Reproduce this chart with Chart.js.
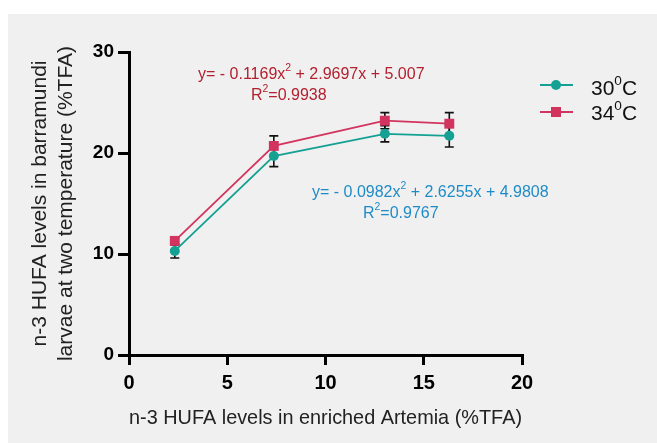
<!DOCTYPE html>
<html>
<head>
<meta charset="utf-8">
<script src="https://cdn.jsdelivr.net/npm/chart.js@4"></script>
<style>
html, body { margin: 0; padding: 0; background: #fff; }
#wrap { position: relative; width: 657px; height: 443px; }
#panel { position: absolute; left: 8px; top: 14px; right: 0; bottom: 0; background: #f0f0f0; }
canvas { position: absolute; left: 0; top: 0; }
</style>
</head>
<body>
<div id="wrap"><div id="panel"></div><canvas id="chart" width="657" height="443"></canvas></div>
<script>
// values
const artemia = [2.33, 7.37, 13.02, 16.3];
const larvae30 = [10.3, 19.7, 21.9, 21.7];
const err30 = [0.7, 1.05, 0.8, 1.1];
const larvae34 = [11.3, 20.7, 23.2, 22.9];
const err34 = [0.4, 1.0, 0.8, 1.1];
const seriesTemps = ['30', '34'];
const xRange = [0, 20, 5];
const yRange = [0, 30, 10];

const FONT = '"Liberation Sans", Arial, sans-serif';
const TEAL = '#14a193';
const CRIMSON = '#d2345f';

function points(ys) {
    return artemia.map((x, i) => ({x: x, y: ys[i]}));
}

// text with superscripts, parts = [[text, isSup], ...]
function drawRich(ctx, parts, x, baseline, size, color) {
    ctx.fillStyle = color;
    ctx.textAlign = 'left';
    ctx.textBaseline = 'alphabetic';
    let cx = x;
    parts.forEach(([t, sup]) => {
        const fs = sup ? size * 0.65 : size;
        ctx.font = fs + 'px ' + FONT;
        ctx.fillText(t, cx, sup ? baseline - size * 0.47 : baseline);
        cx += ctx.measureText(t).width;
    });
}

const errorBars = {
    id: 'errorBars',
    beforeDatasetsDraw(chart) {
        const ctx = chart.ctx;
        const xs = chart.scales.x, ys = chart.scales.y;
        ctx.save();
        ctx.strokeStyle = '#111';
        ctx.lineWidth = 1.6;
        chart.data.datasets.forEach(ds => {
            ds.data.forEach((p, i) => {
                const px = xs.getPixelForValue(p.x);
                const top = ys.getPixelForValue(p.y + ds.errors[i]);
                const bot = ys.getPixelForValue(p.y - ds.errors[i]);
                ctx.beginPath();
                ctx.moveTo(px, top); ctx.lineTo(px, bot);
                ctx.moveTo(px - 4.5, top); ctx.lineTo(px + 4.5, top);
                ctx.moveTo(px - 4.5, bot); ctx.lineTo(px + 4.5, bot);
                ctx.stroke();
            });
        });
        ctx.restore();
    }
};

const notes = {
    id: 'notes',
    afterDraw(chart) {
        const ctx = chart.ctx;
        ctx.save();
        // fit equations
        drawRich(ctx, [['y= - 0.1169x'], ['2', true], [' + 2.9697x + 5.007']], 198, 79, 16, '#b3202f');
        drawRich(ctx, [['R'], ['2', true], ['=0.9938']], 251, 100, 16, '#b3202f');
        drawRich(ctx, [['y= - 0.0982x'], ['2', true], [' + 2.6255x + 4.9808']], 312, 197, 16, '#1f8bc6');
        drawRich(ctx, [['R'], ['2', true], ['=0.9767']], 363, 218, 16, '#1f8bc6');

        // legend
        chart.data.datasets.forEach((ds, i) => {
            const ly = i === 0 ? 85 : 112;
            ctx.strokeStyle = ds.borderColor;
            ctx.lineWidth = 2;
            ctx.beginPath();
            ctx.moveTo(540, ly); ctx.lineTo(573, ly);
            ctx.stroke();
            ctx.fillStyle = ds.backgroundColor;
            if (ds.pointStyle === 'rect') {
                ctx.fillRect(551, ly - 5, 10, 10);
            } else {
                ctx.beginPath();
                ctx.arc(556, ly, 5, 0, Math.PI * 2);
                ctx.fill();
            }
            drawRich(ctx, [[seriesTemps[i]], ['0', true], ['C']], 591, i === 0 ? 95 : 120, 21, '#111');
        });
        ctx.restore();
    }
};

const ctx = document.getElementById('chart').getContext('2d');
const myChart = new Chart(ctx, {
    type: 'line',
    data: {
        datasets: [{
            label: seriesTemps[0] + '\u2070C',
            data: points(larvae30),
            errors: err30,
            borderColor: TEAL,
            backgroundColor: TEAL,
            borderWidth: 1.8,
            pointStyle: 'circle',
            pointRadius: 5,
            pointBorderWidth: 0
        }, {
            label: seriesTemps[1] + '\u2070C',
            data: points(larvae34),
            errors: err34,
            borderColor: CRIMSON,
            backgroundColor: CRIMSON,
            borderWidth: 1.8,
            pointStyle: 'rect',
            pointRadius: 7,
            pointBorderWidth: 0
        }]
    },
    options: {
        responsive: false,
        animation: false,
        devicePixelRatio: 1,
        layout: {padding: {top: 52, right: 135, left: 0, bottom: 0}},
        plugins: {legend: {display: false}, tooltip: {enabled: false}},
        scales: {
            x: {
                type: 'linear',
                min: xRange[0], max: xRange[1],
                ticks: {stepSize: xRange[2], color: '#000', padding: 6, font: {family: FONT, size: 20, weight: 'bold'}},
                grid: {drawOnChartArea: false, color: '#000', lineWidth: 3, tickLength: 10},
                border: {color: '#000', width: 3},
                title: {display: true, text: 'n-3 HUFA levels in enriched Artemia (%TFA)', color: '#222',
                        font: {family: FONT, size: 21}, padding: {top: 0, bottom: 12}},
                afterFit(s) { s.height = 88; }
            },
            y: {
                min: yRange[0], max: yRange[1],
                ticks: {stepSize: yRange[2], color: '#000', padding: 4, font: {family: FONT, size: 19, weight: 'bold'}},
                grid: {drawOnChartArea: false, color: '#000', lineWidth: 3, tickLength: 11},
                border: {color: '#000', width: 3},
                title: {display: true, text: ['n-3 HUFA levels in barramundi', 'larvae at two temperature (%TFA)'],
                        color: '#222', font: {family: FONT, size: 21}, padding: {top: 28, bottom: 0}},
                afterFit(s) { s.width = 129; }
            }
        }
    },
    plugins: [errorBars, notes]
});
</script>
</body>
</html>
